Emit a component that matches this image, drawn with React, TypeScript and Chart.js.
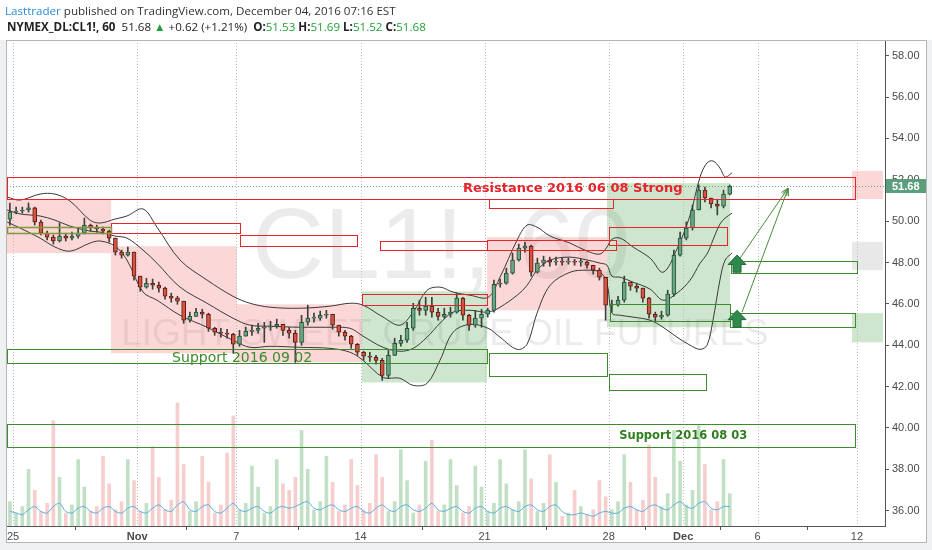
import React, { useEffect, useRef } from 'react';
import { Chart, registerables } from 'chart.js';

Chart.register(...registerables);

// ---------- axes ----------
const xTickDays = [0, 5, 9, 14, 19, 24, 27, 30, 34];
const xTickLabels = ['25', 'Nov', '7', '14', '21', '28', 'Dec', '6', '12'];
const monthLabels = ['Nov', 'Dec'];
const yTicks = [36, 38, 40, 42, 44, 46, 48, 50, 52, 54, 56, 58];
const xMin = -0.242;
const xMax = 35.13;
const yMin = 35.26;
const yMax = 58.76;

// ---------- price (quarter-day candles, trading-day index, 0 = Oct 25) ----------
const candleStartDay = -0.125;
const candleStepDay = 0.25;
const firstOpen = 50.1;
const closes = [
  50.44, 50.49, 50.54, 50.64, 49.96, 49.42, 49.23, 49.04, 49.28, 49.18,
  49.28, 49.42, 49.81, 49.67, 49.62, 49.52, 49.18, 48.5, 48.36, 48.5,
  47.34, 46.81, 47.0, 46.9, 46.76, 46.37, 46.28, 46.13, 45.21, 45.4,
  45.6, 45.5, 44.82, 44.63, 44.58, 44.53, 44.05, 44.44, 44.67, 44.72,
  44.82, 44.87, 44.92, 45.01, 44.72, 44.58, 44.14, 45.11, 45.31, 45.31,
  45.45, 45.5, 44.97, 44.63, 44.44, 44.05, 43.66, 43.47, 43.42, 43.27,
  42.54, 43.51, 44.09, 44.24, 44.82, 45.79, 45.69, 45.89, 45.6, 45.4,
  45.5, 45.6, 46.28, 45.45, 44.97, 45.31, 45.5, 45.69, 46.95, 47.0,
  47.49, 48.12, 48.7, 48.79, 47.53, 47.97, 48.12, 48.02, 48.07, 48.02,
  48.07, 48.02, 48.02, 47.87, 47.63, 47.29, 45.94, 45.94, 46.18, 47.05,
  46.86, 46.76, 46.28, 45.5, 45.36, 45.45, 46.47, 48.36, 49.18, 49.67,
  50.54, 51.5, 51.12, 50.83, 50.73, 51.31, 51.68,
];
const highs = [
  50.88, 50.68, 50.68, 50.88, 50.68, 50.05, 49.52, 49.33, 49.91, 49.42,
  49.47, 49.62, 50.15, 49.86, 49.81, 49.71, 49.57, 49.18, 48.6, 48.75,
  48.5, 47.34, 47.24, 47.2, 47.05, 46.81, 46.52, 46.37, 46.13, 45.6,
  45.79, 45.74, 45.55, 44.87, 44.82, 44.77, 44.58, 44.72, 44.87, 44.97,
  45.06, 45.11, 45.16, 45.26, 44.97, 44.87, 44.72, 45.45, 45.94, 45.55,
  45.65, 45.69, 45.5, 44.97, 44.72, 44.48, 44.09, 43.71, 43.66, 43.51,
  43.37, 43.75, 44.34, 44.48, 45.11, 46.03, 46.18, 46.32, 46.32, 45.79,
  45.79, 45.84, 46.52, 46.32, 45.5, 45.69, 45.74, 45.79, 47.15, 47.2,
  47.73, 48.46, 48.89, 48.99, 48.84, 48.21, 48.31, 48.26, 48.26, 48.21,
  48.21, 48.16, 48.16, 48.07, 47.87, 47.73, 47.29, 46.18, 46.37, 47.34,
  47.05, 47.0, 46.76, 46.32, 45.6, 45.65, 46.66, 48.6, 49.47, 49.96,
  50.78, 51.75, 51.65, 51.12, 51.02, 51.5, 51.75,
];
const lows = [
  49.81, 50.35, 50.39, 50.44, 49.81, 49.33, 49.09, 48.89, 48.99, 49.04,
  49.09, 49.18, 49.38, 49.52, 49.47, 49.38, 48.99, 48.36, 48.21, 48.31,
  47.15, 46.61, 46.76, 46.71, 46.57, 46.23, 46.08, 45.98, 45.06, 45.11,
  45.4, 45.31, 44.67, 44.48, 44.39, 44.34, 43.61, 43.95, 44.44, 44.48,
  44.58, 44.14, 44.72, 44.82, 44.48, 44.34, 43.17, 44.0, 44.97, 45.11,
  45.21, 45.31, 44.77, 44.44, 44.24, 43.85, 43.51, 43.27, 43.22, 43.08,
  42.3, 42.4, 43.51, 43.95, 44.14, 44.72, 45.45, 45.45, 45.36, 45.21,
  45.31, 45.36, 45.55, 45.21, 44.72, 44.87, 44.87, 45.36, 45.6, 46.81,
  46.95, 47.44, 48.07, 48.5, 47.34, 47.49, 47.82, 47.82, 47.87, 47.87,
  47.92, 47.87, 47.82, 47.73, 47.44, 47.15, 45.21, 45.6, 45.89, 46.08,
  46.66, 46.57, 46.08, 45.31, 45.16, 45.26, 45.4, 46.37, 48.31, 49.09,
  49.57, 50.54, 50.93, 50.64, 50.3, 50.64, 51.27,
];
// volume (thousand contracts) per quarter-day candle
const volumes = [
  15,
  8, 12, 35, 22, 9, 14, 65, 30, 8, 13, 41, 24, 9, 12, 43, 26, 10, 15, 41, 28,
  9, 14, 49, 30, 10, 16, 76, 38, 9, 15, 43, 27, 8, 13, 45, 68,
  10, 14, 37, 24, 8, 12, 41, 26, 22, 30, 59, 35, 10, 15, 43, 27, 9, 13, 41, 25,
  10, 14, 44, 30, 9, 15, 47, 28, 8, 13, 40, 53, 9, 13, 41, 25, 8, 12, 37, 24,
  9, 14, 41, 26, 10, 15, 47, 29, 9, 14, 44, 27, 6, 8, 22, 12, 7, 10, 28, 18,
  10, 15, 44, 27, 10, 16, 50, 30, 12, 20, 59, 40, 13, 22, 62, 38, 10, 15, 41, 20,
];
const volumeMA = [
  9,
  8, 7, 10, 12, 9, 8, 12, 14, 9, 8, 11, 12, 9, 8, 11, 12, 9, 8, 11, 12,
  9, 8, 11, 13, 10, 9, 13, 15, 10, 9, 12, 13, 9, 8, 11, 14,
  10, 9, 11, 12, 9, 8, 11, 12, 11, 12, 14, 15, 11, 10, 12, 13, 10, 9, 11, 12,
  9, 8, 11, 13, 10, 9, 12, 13, 10, 9, 11, 14, 10, 9, 11, 12, 9, 8, 11, 12,
  9, 8, 11, 12, 10, 9, 12, 13, 10, 9, 12, 13, 9, 7, 7, 8, 7, 6, 8, 9,
  8, 8, 11, 12, 10, 9, 12, 13, 11, 10, 13, 15, 12, 11, 14, 15, 11, 10, 12, 12,
];

// ---------- Bollinger bands ----------
const bbDay = [
  -0.24, 0.28, 1.09, 1.69, 2.3, 3.1, 3.51, 4.11, 4.59, 5.24,
  5.8, 6.73, 7.82, 8.86, 9.55, 10.35, 11.56, 12.77, 13.58, 14.1,
  14.91, 15.59, 16.12, 16.68, 17.2, 17.73, 18.41, 19.14, 19.62, 20.31,
  20.71, 21.11, 21.64, 22.44, 23.13, 23.65, 23.93, 24.13, 24.46, 24.98,
  25.67, 26.19, 26.75, 27.28, 27.68, 27.96, 28.2, 28.48, 28.69, 28.97,
];
const bbUpper = [
  51.17, 51.02, 51.31, 51.31, 50.97, 50.05, 49.91, 50.1, 50.25, 50.59,
  49.71, 48.12, 47.15, 46.37, 46.03, 45.84, 45.79, 45.89, 46.03, 45.94,
  45.36, 44.97, 45.6, 46.66, 46.81, 46.57, 46.42, 46.32, 47.29, 49.09,
  49.81, 49.71, 49.28, 48.94, 48.55, 48.41, 48.75, 49.13, 49.18, 48.75,
  48.21, 47.53, 48.65, 50.3, 52.14, 52.82, 52.91, 52.57, 52.14, 52.33,
];
const bbMiddle = [
  50.54, 50.35, 50.25, 50.05, 49.76, 49.52, 49.47, 49.28, 49.18, 48.6,
  47.97, 46.81, 46.03, 45.31, 44.97, 44.92, 44.87, 44.87, 44.82, 44.44,
  43.9, 43.71, 43.85, 44.39, 45.06, 45.6, 45.69, 45.6, 45.84, 46.42,
  46.9, 47.63, 48.12, 48.26, 48.12, 47.97, 47.87, 47.34, 47.29, 47.05,
  46.71, 46.18, 46.52, 47.15, 47.97, 48.41, 49.09, 49.86, 50.15, 50.39,
];
const bbLower = [
  49.96, 49.67, 49.18, 48.75, 48.55, 48.94, 49.04, 48.79, 48.12, 46.57,
  46.18, 45.45, 44.87, 44.24, 43.9, 43.95, 43.9, 43.85, 43.66, 43.27,
  42.45, 42.4, 42.06, 42.16, 43.27, 44.63, 45.01, 44.82, 44.39, 43.8,
  44.05, 45.55, 46.9, 47.53, 47.63, 47.53, 47.0, 45.55, 45.45, 45.36,
  45.21, 44.87, 44.39, 44.0, 43.8, 44.0, 45.21, 47.15, 48.12, 48.46,
];

// ---------- drawings: [startDay, endDay, lowPrice, highPrice] ----------
const pinkZones = [
  [-0.25, 3.95, 48.46, 51.02],
  [3.95, 9.02, 43.61, 48.79],
  [9.02, 14.06, 43.17, 45.98],
  [19.1, 23.93, 45.69, 49.23],
  [33.8, 35.05, 51.07, 52.43],
];
const greenZones = [
  [14.06, 19.1, 42.2, 46.61],
  [23.93, 28.89, 44.87, 51.84],
  [33.8, 35.05, 44.14, 45.55],
];
const grayZones = [[33.8, 35.05, 47.63, 49.0]];
const redBoxes = [
  [-0.25, 33.92, 51.07, 52.14],
  [19.18, 24.17, 50.64, 51.07],
  [3.95, 9.15, 49.42, 49.91],
  [9.15, 13.86, 48.79, 49.33],
  [14.79, 19.1, 48.6, 49.05],
  [19.1, 24.3, 48.6, 49.09],
  [14.06, 19.1, 45.95, 46.47],
  [24.01, 28.77, 48.84, 49.7],
];
const greenBoxes = [
  [-0.25, 33.92, 39.1, 40.17],
  [-0.25, 19.1, 43.13, 43.8],
  [19.18, 23.93, 42.5, 43.61],
  [24.01, 27.92, 41.82, 42.59],
  [24.05, 28.89, 45.16, 45.98],
  [28.93, 34.0, 47.49, 48.07],
  [28.89, 33.92, 44.87, 45.55],
];
const oliveBoxes = [[-0.25, 3.95, 49.42, 49.72]];
// [day, price]
const resistanceLabel = { text: 'Resistance 2016 06 08 Strong', day: 18.13, price: 51.56 };
const support0803Label = { text: 'Support 2016 08 03', day: 24.42, price: 39.62 };
const support0902Label = { text: 'Support 2016 09 02', day: 6.41, price: 43.37 };
// block arrows: [day, tipPrice, basePrice]
const blockArrows = [
  [29.17, 48.36, 47.53],
  [29.17, 45.69, 44.87],
];
// thin arrows: [fromDay, fromPrice, toDay, toPrice]
const lineArrows = [
  [29.29, 48.21, 31.23, 51.6],
  [29.37, 45.6, 31.23, 51.6],
];
const lastPrice = 51.68;
const watermarkTitle = 'CL1!, 60';
const watermarkSub = 'LIGHT SWEET CRUDE OIL FUTURES';

const W = 932;
const H = 550;

const overlayPlugin = {
  id: 'tvOverlay',
  beforeDraw(chart: any) {
    const ctx = chart.ctx;
    ctx.save();
    ctx.fillStyle = '#eef0f2';
    ctx.fillRect(0, 0, W, H);
    ctx.fillStyle = '#ffffff';
    ctx.fillRect(0, 0, W, 40);
    ctx.fillRect(6, 40, 921, 503);
    ctx.restore();
  },
  beforeDatasetsDraw(chart: any) {
    const { ctx, chartArea: a, scales } = chart;
    const X = (d: number) => scales.x.getPixelForValue(d);
    const Y = (p: number) => scales.y.getPixelForValue(p);
    ctx.save();
    ctx.beginPath();
    ctx.rect(a.left, a.top, a.right - a.left, a.bottom - a.top);
    ctx.clip();
    // watermark
    const cx = (a.left + a.right) / 2;
    const cy = (a.top + a.bottom) / 2;
    ctx.fillStyle = 'rgba(0,0,0,0.08)';
    ctx.textAlign = 'center';
    ctx.textBaseline = 'middle';
    ctx.font = '100px "Liberation Sans"';
    ctx.fillText(watermarkTitle, cx - 5, cy - 33);
    ctx.font = '37px "Liberation Sans"';
    ctx.fillText(watermarkSub, cx - 1, cy + 52);
    // zones
    const fillZones = (zones: number[][], color: string) => {
      ctx.fillStyle = color;
      zones.forEach(([d0, d1, p0, p1]) => {
        const x0 = X(d0), x1 = X(d1), y0 = Y(p1), y1 = Y(p0);
        ctx.fillRect(x0, y0, x1 - x0, y1 - y0);
      });
    };
    fillZones(pinkZones, 'rgba(240,110,110,0.28)');
    fillZones(greenZones, 'rgba(80,165,80,0.28)');
    fillZones(grayZones, 'rgba(150,150,150,0.22)');
    // dotted vertical grid
    ctx.strokeStyle = '#bdbdbd';
    ctx.lineWidth = 1;
    ctx.setLineDash([1, 2]);
    xTickDays.forEach((d) => {
      const x = Math.round(X(d)) + 0.5;
      ctx.beginPath();
      ctx.moveTo(x, a.top);
      ctx.lineTo(x, a.bottom);
      ctx.stroke();
    });
    // last price line
    ctx.strokeStyle = '#6f9f86';
    const yl = Math.round(Y(lastPrice)) + 0.5;
    ctx.beginPath();
    ctx.moveTo(a.left, yl);
    ctx.lineTo(a.right, yl);
    ctx.stroke();
    ctx.restore();
  },
  afterDatasetsDraw(chart: any) {
    const { ctx, chartArea: a, scales } = chart;
    const X = (d: number) => scales.x.getPixelForValue(d);
    const Y = (p: number) => scales.y.getPixelForValue(p);
    ctx.save();
    ctx.beginPath();
    ctx.rect(a.left, a.top, a.right - a.left, a.bottom - a.top);
    ctx.clip();
    const strokeBoxes = (boxes: number[][], color: string, lw: number) => {
      ctx.strokeStyle = color;
      ctx.lineWidth = lw;
      boxes.forEach(([d0, d1, p0, p1]) => {
        const x0 = Math.round(X(d0)) + 0.5;
        const x1 = Math.round(X(d1)) + 0.5;
        const y0 = Math.round(Y(p1)) + 0.5;
        const y1 = Math.round(Y(p0)) + 0.5;
        ctx.strokeRect(x0, y0, x1 - x0, y1 - y0);
      });
    };
    strokeBoxes(redBoxes, '#e8232b', 1);
    strokeBoxes(greenBoxes, '#3f8a2e', 1);
    strokeBoxes(oliveBoxes, '#7f9a3a', 1.5);
    // labels
    ctx.textAlign = 'left';
    ctx.textBaseline = 'middle';
    ctx.fillStyle = '#e8232b';
    ctx.font = 'bold 13px "DejaVu Sans"';
    ctx.fillText(resistanceLabel.text, X(resistanceLabel.day), Y(resistanceLabel.price));
    ctx.fillStyle = '#2f7d1f';
    ctx.font = 'bold 11.5px "DejaVu Sans"';
    ctx.fillText(support0803Label.text, X(support0803Label.day), Y(support0803Label.price));
    ctx.fillStyle = '#3d8a2a';
    ctx.font = '14px "DejaVu Sans"';
    ctx.fillText(support0902Label.text, X(support0902Label.day), Y(support0902Label.price));
    // thin arrows
    ctx.strokeStyle = '#4b8b3b';
    ctx.lineWidth = 1;
    lineArrows.forEach(([d0, p0, d1, p1]) => {
      const x0 = X(d0), y0 = Y(p0), x1 = X(d1), y1 = Y(p1);
      ctx.beginPath();
      ctx.moveTo(x0, y0);
      ctx.lineTo(x1, y1);
      ctx.stroke();
      const ang = Math.atan2(y1 - y0, x1 - x0);
      const len = 8;
      ctx.beginPath();
      ctx.moveTo(x1 - len * Math.cos(ang - 0.4), y1 - len * Math.sin(ang - 0.4));
      ctx.lineTo(x1, y1);
      ctx.lineTo(x1 - len * Math.cos(ang + 0.4), y1 - len * Math.sin(ang + 0.4));
      ctx.stroke();
    });
    // block arrows
    blockArrows.forEach(([d, pt, pb]) => {
      const x = X(d), yt = Y(pt), yb = Y(pb);
      const hh = (yb - yt) * 0.55;
      ctx.beginPath();
      ctx.moveTo(x, yt);
      ctx.lineTo(x + 9, yt + hh);
      ctx.lineTo(x + 4, yt + hh);
      ctx.lineTo(x + 4, yb);
      ctx.lineTo(x - 4, yb);
      ctx.lineTo(x - 4, yt + hh);
      ctx.lineTo(x - 9, yt + hh);
      ctx.closePath();
      ctx.fillStyle = '#2e8a4c';
      ctx.fill();
      ctx.strokeStyle = '#1d6b35';
      ctx.stroke();
    });
    ctx.restore();
  },
  afterDraw(chart: any) {
    const { ctx, chartArea: a, scales } = chart;
    const Y = (p: number) => scales.y.getPixelForValue(p);
    ctx.save();
    // last price label
    const y = Math.round(Y(lastPrice));
    ctx.fillStyle = '#5b9e7c';
    ctx.fillRect(a.right + 1, y - 7, 40, 14);
    ctx.fillStyle = '#ffffff';
    ctx.font = 'bold 11px "Liberation Sans"';
    ctx.textAlign = 'left';
    ctx.textBaseline = 'middle';
    ctx.fillText(lastPrice.toFixed(2), a.right + 7, y + 0.5);
    // pane frame
    ctx.strokeStyle = '#b5b5b5';
    ctx.lineWidth = 1;
    ctx.strokeRect(6.5, 40.5, 920, 502);
    ctx.restore();
  },
};

export default function App() {
  const ref = useRef<HTMLCanvasElement>(null);
  useEffect(() => {
    const canvas = ref.current;
    if (!canvas) return;
    const days = closes.map((_, i) => candleStartDay + i * candleStepDay);
    const opens = closes.map((_, i) => (i === 0 ? firstOpen : closes[i - 1]));
    const up = closes.map((c, i) => c >= opens[i]);
    const bbData = (arr: number[]) => arr.map((v, i) => ({ x: bbDay[i], y: v }));
    const chart = new Chart(canvas, {
      type: 'bar',
      data: {
        datasets: [
          {
            type: 'bar',
            label: 'Volume',
            yAxisID: 'vol',
            data: days.map((d, i) => ({ x: d, y: volumes[i] })) as any,
            backgroundColor: up.map((u) => (u ? 'rgba(110,180,120,0.42)' : 'rgba(230,120,120,0.36)')),
            barThickness: 3,
            grouped: false,
            order: 20,
          } as any,
          {
            type: 'line',
            label: 'Volume MA',
            yAxisID: 'vol',
            data: days.map((d, i) => ({ x: d, y: volumeMA[i] })) as any,
            borderColor: '#5aaee0',
            borderWidth: 1,
            pointRadius: 0,
            tension: 0.3,
            order: 19,
          },
          {
            type: 'line',
            label: 'BB upper',
            data: bbData(bbUpper) as any,
            borderColor: '#3a3a3a',
            borderWidth: 1,
            pointRadius: 0,
            tension: 0.35,
            order: 10,
          },
          {
            type: 'line',
            label: 'BB basis',
            data: bbData(bbMiddle) as any,
            borderColor: '#3a3a3a',
            borderWidth: 1,
            pointRadius: 0,
            tension: 0.35,
            order: 10,
          },
          {
            type: 'line',
            label: 'BB lower',
            data: bbData(bbLower) as any,
            borderColor: '#3a3a3a',
            borderWidth: 1,
            pointRadius: 0,
            tension: 0.35,
            order: 10,
          },
          {
            type: 'bar',
            label: 'Wick',
            data: days.map((d, i) => ({ x: d, y: [lows[i], highs[i]] })) as any,
            backgroundColor: '#3d3d3d',
            barThickness: 1,
            grouped: false,
            order: 3,
          } as any,
          {
            type: 'bar',
            label: 'Body',
            data: days.map((d, i) => ({ x: d, y: [opens[i], closes[i]] })) as any,
            backgroundColor: up.map((u) => (u ? '#6ba583' : '#d75442')),
            borderColor: up.map((u) => (u ? '#225437' : '#5b1a13')),
            borderWidth: 1,
            borderSkipped: false,
            barThickness: 4,
            minBarLength: 1,
            grouped: false,
            order: 2,
          } as any,
        ],
      },
      options: {
        responsive: false,
        animation: false,
        devicePixelRatio: 1,
        layout: { padding: { left: 7, top: 40, right: 0, bottom: 0 } },
        plugins: {
          legend: { display: false },
          tooltip: { enabled: false },
          title: { display: false },
        },
        scales: {
          x: {
            type: 'linear',
            min: xMin,
            max: xMax,
            offset: false,
            afterBuildTicks: (s: any) => {
              s.ticks = xTickDays.map((v) => ({ value: v }));
            },
            afterFit: (s: any) => {
              s.height = 24;
            },
            ticks: {
              autoSkip: false,
              maxRotation: 0,
              padding: 0,
              color: '#4a4a4a',
              font: (c: any) => ({
                family: 'Liberation Sans',
                size: 11,
                weight: monthLabels.includes(xTickLabels[c.index]) ? 'bold' : 'normal',
              }),
              callback: (_v: any, i: number) => xTickLabels[i],
            },
            grid: { drawOnChartArea: false, drawTicks: true, tickLength: 4, color: '#555' },
            border: { color: '#555', width: 1 },
          },
          y: {
            type: 'linear',
            position: 'right',
            min: yMin,
            max: yMax,
            afterBuildTicks: (s: any) => {
              s.ticks = yTicks.map((v) => ({ value: v }));
            },
            afterFit: (s: any) => {
              s.width = 47;
            },
            ticks: {
              padding: 3,
              color: '#4a4a4a',
              font: { family: 'Liberation Sans', size: 11 },
              callback: (v: any) => Number(v).toFixed(2),
            },
            grid: { drawOnChartArea: false, drawTicks: true, tickLength: 4, color: '#555' },
            border: { color: '#555', width: 1 },
          },
          vol: { display: false, min: 0, max: 300 },
        },
      } as any,
      plugins: [overlayPlugin],
    });
    return () => chart.destroy();
  }, []);

  const green = { color: '#22a038' };
  return (
    <div style={{ position: 'fixed', left: 0, top: 0, width: W, height: H, overflow: 'hidden', background: '#fff' }}>
      <canvas ref={ref} width={W} height={H} style={{ position: 'absolute', left: 0, top: 0 }} />
      <div
        style={{
          position: 'absolute',
          left: 5,
          top: 3,
          font: '11.6px "Open Sans"',
          color: '#333',
          whiteSpace: 'nowrap',
          lineHeight: '16px',
        }}
      >
        <span style={{ color: '#2a8bd6' }}>Lasttrader</span> published on TradingView.com, December 04, 2016 07:16 EST
      </div>
      <div
        style={{
          position: 'absolute',
          left: 7,
          top: 19,
          font: '11.6px "Open Sans"',
          color: '#222',
          whiteSpace: 'nowrap',
          lineHeight: '16px',
        }}
      >
        <b>NYMEX_DL:CL1!, 60</b>
        <span>&nbsp; 51.68 </span>
        <span style={green}>▲</span>
        <span> +0.62 (+1.21%)&nbsp; </span>
        <b>O:</b>
        <span style={green}>51.53</span> <b>H:</b>
        <span style={green}>51.69</span> <b>L:</b>
        <span style={green}>51.52</span> <b>C:</b>
        <span style={green}>51.68</span>
      </div>
    </div>
  );
}
